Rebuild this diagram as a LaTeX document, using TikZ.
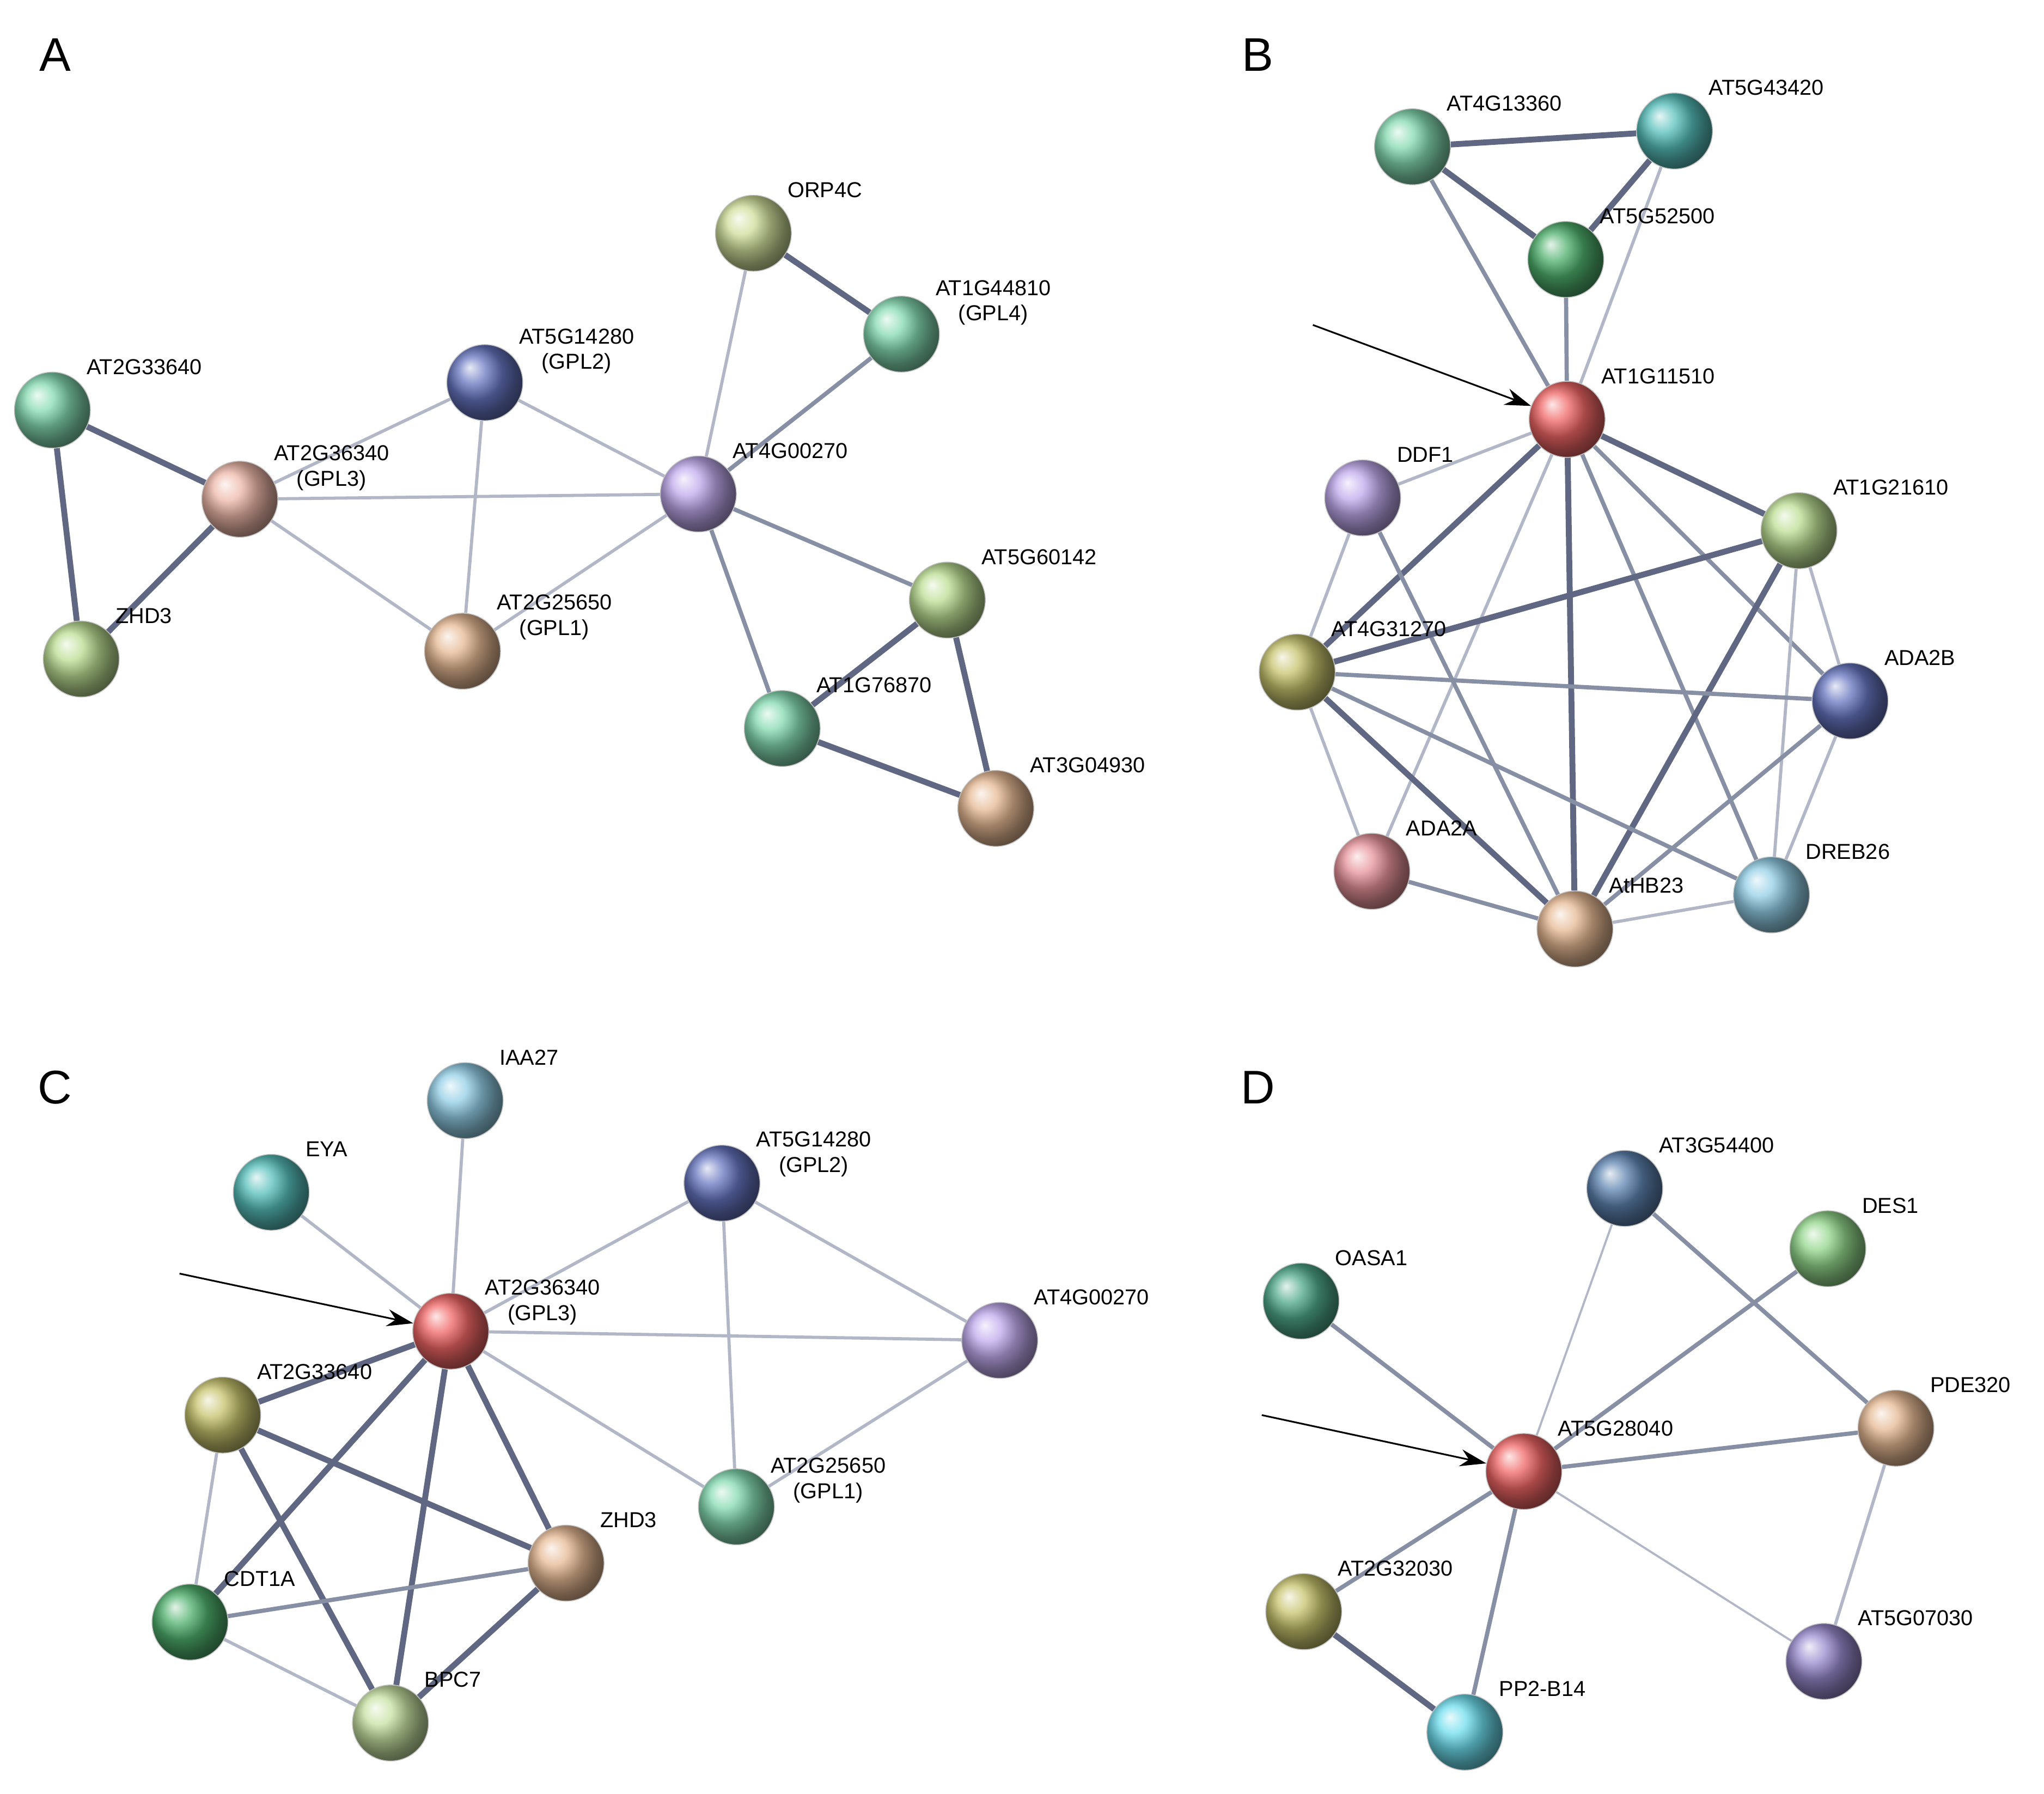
\documentclass[tikz,border=0pt]{standalone}
\usepackage{fontspec}
\setmainfont{Liberation Sans}
\usetikzlibrary{backgrounds,arrows.meta}
\definecolor{mint}{RGB}{90,205,150}
\definecolor{lgreen}{RGB}{165,210,110}
\definecolor{ygreen}{RGB}{190,210,120}
\definecolor{navy}{RGB}{50,70,170}
\definecolor{salmon}{RGB}{232,160,140}
\definecolor{purp}{RGB}{170,140,230}
\definecolor{tan}{RGB}{222,162,112}
\definecolor{teal}{RGB}{30,170,165}
\definecolor{dgreen}{RGB}{20,150,60}
\definecolor{rred}{RGB}{235,50,50}
\definecolor{olive}{RGB}{180,175,60}
\definecolor{pink}{RGB}{222,110,120}
\definecolor{sky}{RGB}{110,190,222}
\definecolor{cyanb}{RGB}{60,210,232}
\definecolor{dteal}{RGB}{20,140,100}
\definecolor{steel}{RGB}{40,90,150}
\definecolor{grn}{RGB}{110,200,100}
\definecolor{slate}{RGB}{120,100,190}
\definecolor{pale}{RGB}{180,215,130}
\definecolor{eT}{RGB}{95,103,130}
\definecolor{eM}{RGB}{135,143,165}
\definecolor{eL}{RGB}{178,183,200}
\tikzset{
 x=1pt,y=-1pt,
 ball/.style={circle,minimum size=58pt,inner sep=0pt,draw=black!25,line width=0.6pt,ball color=#1!75!white},
 lbl/.style={font=\fontsize{16.5}{19.5}\selectfont,anchor=west,align=center,inner sep=0pt},
 let/.style={font=\fontsize{36}{40}\selectfont,inner sep=0pt},
 T/.style={draw=eT,line width=4.5pt},
 M/.style={draw=eM,line width=3.2pt},
 L/.style={draw=eL,line width=2.4pt},
 arr/.style={-{Stealth[length=20pt,width=13pt]},line width=1.3pt}
}
\newcommand{\N}[6]{\node[ball=#4] (#1) at (#2,#3) {}; \path (#1.center) ++(26,-#6) node[lbl] (#1l) {#5};}
\begin{document}
\begin{tikzpicture}
\useasboundingbox (0,0) rectangle (1560,1369);
\node[let] (pA) at (42,42) {A};
\node[let] (pB) at (960,42) {B};
\node[let] (pC) at (42,830) {C};
\node[let] (pD) at (960,830) {D};
% Panel A
\N{aORP}{575}{178}{ygreen}{ORP4C}{33}
\N{a448}{688}{255}{mint}{AT1G44810\\(GPL4)}{24}
\N{a142}{370}{292}{navy}{AT5G14280\\(GPL2)}{24}
\N{a336}{40}{313}{mint}{AT2G33640}{33}
\N{a363}{183}{381}{salmon}{AT2G36340\\(GPL3)}{24}
\N{a400}{533}{377}{purp}{AT4G00270}{33}
\N{a601}{723}{458}{lgreen}{AT5G60142}{33}
\N{aZHD}{62}{503}{lgreen}{ZHD3}{33}
\N{a256}{353}{497}{tan}{AT2G25650\\(GPL1)}{26}
\N{a768}{597}{556}{mint}{AT1G76870}{33}
\N{a304}{760}{617}{tan}{AT3G04930}{33}
% Panel B
\N{b133}{1078}{112}{mint}{AT4G13360}{33}
\N{b434}{1278}{100}{teal}{AT5G43420}{33}
\N{b525}{1195}{198}{dgreen}{AT5G52500}{33}
\N{b115}{1196}{320}{rred}{AT1G11510}{33}
\N{bDDF}{1040}{380}{purp}{DDF1}{33}
\N{b216}{1373}{405}{lgreen}{AT1G21610}{33}
\N{b312}{990}{513}{olive}{AT4G31270}{33}
\N{bA2B}{1412}{535}{navy}{ADA2B}{33}
\N{bA2A}{1047}{665}{pink}{ADA2A}{33}
\N{bHB}{1202}{709}{tan}{AtHB23}{33}
\N{bDR}{1352}{683}{sky}{DREB26}{33}
\coordinate (bArr) at (1002,248);
% Panel C
\N{cIAA}{355}{840}{sky}{IAA27}{33}
\N{cEYA}{207}{910}{teal}{EYA}{33}
\N{c142}{551}{903}{navy}{AT5G14280\\(GPL2)}{22}
\N{c363}{344}{1016}{rred}{AT2G36340\\(GPL3)}{22}
\N{c400}{763}{1023}{purp}{AT4G00270}{33}
\N{c336}{170}{1080}{olive}{AT2G33640}{33}
\N{c256}{562}{1150}{mint}{AT2G25650\\(GPL1)}{20}
\N{cZHD}{432}{1193}{tan}{ZHD3}{33}
\N{cCDT}{145}{1238}{dgreen}{CDT1A}{33}
\N{cBPC}{298}{1315}{pale}{BPC7}{33}
\coordinate (cArr) at (137,972);
% Panel D
\N{d544}{1240}{907}{steel}{AT3G54400}{33}
\N{dDES}{1395}{953}{grn}{DES1}{33}
\N{dOAS}{993}{993}{dteal}{OASA1}{33}
\N{dPDE}{1447}{1090}{tan}{PDE320}{33}
\N{d280}{1163}{1123}{rred}{AT5G28040}{33}
\N{d320}{995}{1230}{olive}{AT2G32030}{33}
\N{d070}{1392}{1268}{slate}{AT5G07030}{33}
\N{dPP2}{1118}{1322}{cyanb}{PP2-B14}{33}
\coordinate (dArr) at (963,1080);
\begin{scope}[on background layer]
\fill[white] (0,0) rectangle (1560,1369);
% A edges
\draw[T] (a336)--(a363); \draw[T] (a336)--(aZHD); \draw[T] (aZHD)--(a363);
\draw[L] (a363)--(a142); \draw[L] (a363)--(a400); \draw[L] (a363)--(a256);
\draw[L] (a142)--(a256); \draw[L] (a142)--(a400); \draw[L] (a256)--(a400);
\draw[L] (a400)--(aORP); \draw[M] (a400)--(a448); \draw[T] (aORP)--(a448);
\draw[M] (a400)--(a601); \draw[M] (a400)--(a768);
\draw[T] (a601)--(a768); \draw[T] (a601)--(a304); \draw[T] (a768)--(a304);
% B edges
\draw[T] (b133)--(b434); \draw[T] (b133)--(b525); \draw[T] (b434)--(b525);
\draw[M] (b133)--(b115); \draw[L] (b434)--(b115); \draw[M] (b525)--(b115);
\draw[L] (b115)--(bDDF); \draw[T] (b115)--(b216); \draw[T] (b115)--(b312);
\draw[M] (b115)--(bA2B); \draw[L] (b115)--(bA2A); \draw[T] (b115)--(bHB);
\draw[M] (b115)--(bDR);
\draw[L] (bDDF)--(b312); \draw[M] (bDDF)--(bHB);
\draw[T] (b216)--(b312); \draw[L] (b216)--(bA2B); \draw[T] (b216)--(bHB); \draw[L] (b216)--(bDR);
\draw[M] (b312)--(bA2B); \draw[L] (b312)--(bA2A); \draw[T] (b312)--(bHB); \draw[M] (b312)--(bDR);
\draw[M] (bA2B)--(bHB); \draw[L] (bA2B)--(bDR); \draw[M] (bA2A)--(bHB); \draw[L] (bHB)--(bDR);
% C edges
\draw[L] (c363)--(cIAA); \draw[L] (c363)--(cEYA); \draw[L] (c363)--(c142);
\draw[L] (c363)--(c400); \draw[L] (c363)--(c256); \draw[T] (c363)--(c336);
\draw[T] (c363)--(cCDT); \draw[T] (c363)--(cBPC); \draw[T] (c363)--(cZHD);
\draw[L] (c142)--(c400); \draw[L] (c142)--(c256); \draw[L] (c256)--(c400);
\draw[T] (c336)--(cZHD); \draw[L] (c336)--(cCDT); \draw[T] (c336)--(cBPC);
\draw[M] (cCDT)--(cZHD); \draw[L] (cCDT)--(cBPC); \draw[T] (cZHD)--(cBPC);
% D edges
\draw[L,line width=1.6pt] (d280)--(d544); \draw[M] (d280)--(dDES); \draw[M] (d280)--(dOAS);
\draw[M] (d280)--(dPDE); \draw[M] (d280)--(d320); \draw[M] (d280)--(dPP2);
\draw[L,line width=1.6pt] (d280)--(d070); \draw[M] (d544)--(dPDE); \draw[L] (dPDE)--(d070);
\draw[T] (d320)--(dPP2);
\end{scope}
\draw[arr] (bArr)--(b115);
\draw[arr] (cArr)--(c363);
\draw[arr] (dArr)--(d280);
\end{tikzpicture}
\end{document}
